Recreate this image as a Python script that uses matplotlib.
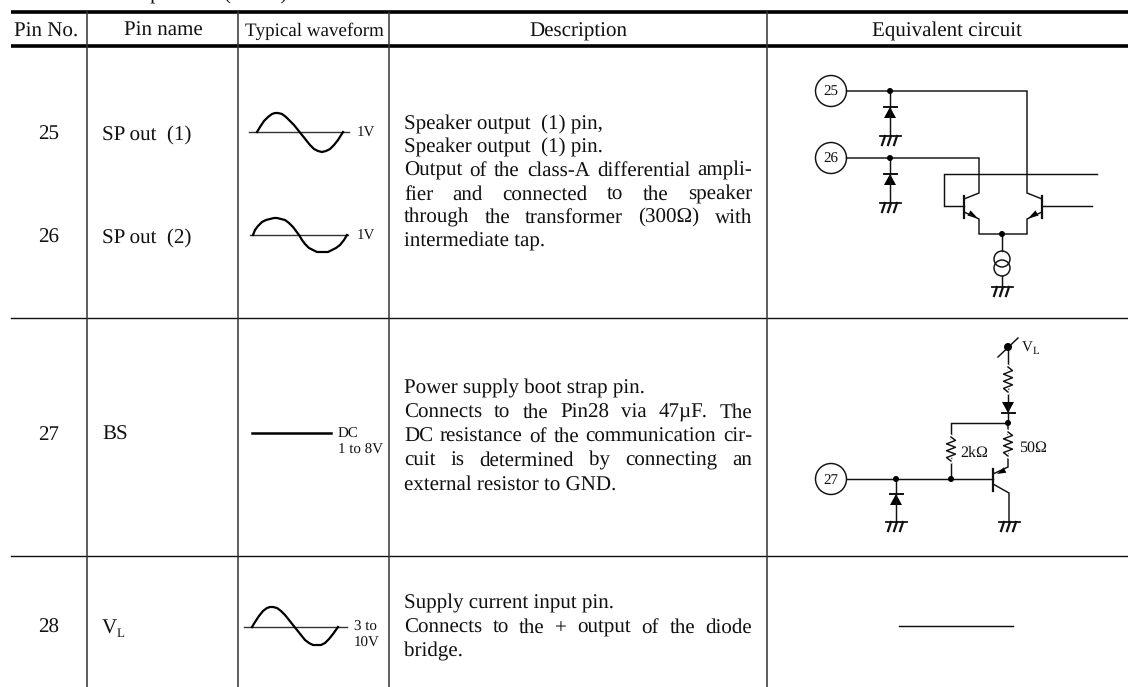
import numpy as np
import matplotlib
matplotlib.use('Agg')
import matplotlib.pyplot as plt
from matplotlib.patches import Circle, Polygon

plt.rcParams['font.family'] = ['Liberation Serif', 'DejaVu Serif']
plt.rcParams['text.hinting'] = 'no_hinting'
plt.rcParams['text.hinting_factor'] = 1

# Tabela
headers = ['Pin No.', 'Pin name', 'Typical waveform', 'Description', 'Equivalent circuit']
header_x = [46, 163, 314, 578, 947]
header_size = [15, 15, 14, 15, 15]
col_lines = [87, 238, 389, 767]
pin_no = ['25', '26', '27', '28']
pin_y = [133, 236, 433, 626]
pin_names = ['SP out  (1)', 'SP out  (2)', 'BS', 'V']

# (tekst, y, czy justowany)
desc_lines = [
    ('Speaker output  (1) pin,', 122.5, False),
    ('Speaker output  (1) pin.', 145.5, False),
    ('Output of the class-A differential ampli-', 168.5, True),
    ('fier and connected to the speaker', 192.5, True),
    ('through the transformer (300Ω) with', 215.5, True),
    ('intermediate tap.', 239.5, False),
    ('Power supply boot strap pin.', 386.5, False),
    ('Connects to the Pin28 via 47µF. The', 410.5, True),
    ('DC resistance of the communication cir-', 434.5, True),
    ('cuit is determined by connecting an', 458.5, True),
    ('external resistor to GND.', 482.5, False),
    ('Supply current input pin.', 601.5, False),
    ('Connects to the + output of the diode', 625.5, True),
    ('bridge.', 649.5, False),
]

# Przebiegi
wave1_x = [257, 260, 264, 268, 272, 275, 278, 282, 286, 290, 294, 298, 302, 306, 310, 314, 318, 322, 326, 330, 334, 338, 343]
wave1_y = [132, 127, 121, 117, 114, 113, 113, 114, 117, 121, 125, 130, 135, 140, 145, 149, 151, 152, 151, 149, 145, 140, 132]
wave2_x = [253, 255, 258, 262, 266, 270, 274, 277, 281, 285, 289, 293, 296, 299, 302, 305, 309, 313, 317, 321, 324, 328, 332, 336, 340, 344, 347]
wave2_y = [235, 230, 226, 222, 220, 219, 218, 218, 219, 220, 223, 227, 231, 235, 240, 244, 248, 250, 252, 252, 252, 252, 250, 248, 245, 240, 235]
wave3_x = [252, 255, 259, 263, 267, 270, 273, 277, 281, 285, 289, 293, 297, 301, 305, 309, 313, 317, 321, 325, 329, 333, 338]
wave3_y = [627, 622, 616, 611, 608, 607, 607, 608, 611, 615, 620, 625, 630, 635, 640, 643, 645, 645, 645, 643, 639, 634, 627]
wave_axes = [(249, 349, 132), (250, 348, 235), (244, 347, 627)]
wave_labels = [(357, 132, '1V'), (357, 235, '1V'), (338, 433, 'DC'), (338, 449, '1 to 8V'),
               (354, 626, '3 to'), (354, 642, '10V')]

# Schematy: przewody jako lamane (x, y)
wires = [
    [(846.5, 91), (1027, 91), (1027, 193), (1042, 199)],
    [(846.5, 158), (979, 158), (979, 193), (964, 199)],
    [(964, 206), (944, 206), (944, 174), (1097, 174)],
    [(1042, 206), (1092, 206)],
    [(964, 212), (979, 219), (979, 234), (1027, 234), (1027, 219), (1042, 212)],
    [(890, 91), (890, 136)],
    [(890, 158), (890, 203)],
    [(1002, 234), (1002, 251)],
    [(1002, 276), (1002, 287)],
    [(846.5, 479), (993, 479)],
    [(896, 479), (896, 522)],
    [(1008, 347), (1008, 423)],
    [(1008, 423), (951, 423), (951, 479)],
    [(1008, 423), (1008, 467), (993, 474)],
    [(993, 484), (1009, 493), (1009, 522)],
    [(998, 357), (1018, 338)],
    [(899, 626), (1013, 626)],
]
dots = [(890, 91), (890, 158), (1002, 234), (896, 479), (951, 479), (1008, 423)]
pin_circles = [(831, 91, '25'), (831, 158, '26'), (831, 479, '27')]
grounds = [(890, 136), (890, 203), (1002, 287), (896, 522), (1009, 522)]
diodes_up = [(890, 107), (890, 174), (896, 494)]
base_bars = [(964, 196, 218), (1042, 196, 218), (993, 469, 491)]
arrows = [((978, 218.5), (969, 213)), ((1028, 218.5), (1037, 213)), ((997, 474), (1005, 470))]
resistors = [(1008, 367, 392), (1008, 432, 456), (951, 437, 461)]
small_labels = [(960, 451, '2kΩ'), (1019, 446, '50Ω')]

LW = 1.05
BLACK = '#111111'
BODY = 15.2

fig = plt.figure(figsize=(11.28, 6.87), dpi=100)
ax = fig.add_axes([0, 0, 1, 1])
ax.set_xlim(0, 1128)
ax.set_ylim(687, 0)
ax.axis('off')
renderer = fig.canvas.get_renderer()


def put(x, y, s, size=15, ha='left', va='center_baseline', **kw):
    return ax.text(x, y, s, fontsize=size, ha=ha, va=va, color=BLACK, **kw)


def justified(s, x0, x1, y, size=15):
    # rozciaga odstepy miedzy slowami do pelnej szerokosci kolumny
    words = s.split()
    widths = []
    for w in words:
        t = put(0, y, w, size=size)
        widths.append(t.get_window_extent(renderer).width)
        t.remove()
    gap = (x1 - x0 - sum(widths)) / (len(words) - 1)
    x = x0
    for w, wd in zip(words, widths):
        put(x, y, w, size=size)
        x += wd + gap


def ground(x, y):
    ax.plot([x - 10.5, x + 10.5], [y, y], color=BLACK, lw=1.3)
    for dx in [-5, 1, 7]:
        ax.plot([x + dx, x + dx - 3], [y, y + 9], color=BLACK, lw=1.6)


def diode(x, y_bar, up=True):
    # up: kreska na gorze, trojkat ponizej
    d = 11 if up else -11
    ax.plot([x - 6.5, x + 6.5], [y_bar, y_bar], color=BLACK, lw=1.4)
    ax.add_patch(Polygon([(x, y_bar), (x - 6, y_bar + d), (x + 6, y_bar + d)], color='black', lw=0))


def resistor(x, y0, y1, teeth=6, w=4.5):
    ys = np.linspace(y0, y1, teeth + 2)
    xs = [x] + [x + (w if i % 2 == 0 else -w) for i in range(teeth)] + [x]
    ax.plot(xs, ys, color='white', lw=3, zorder=3)
    ax.plot(xs, ys, color=BLACK, lw=LW, zorder=4)


def arrow_head(tip, tail):
    tip, tail = np.array(tip, float), np.array(tail, float)
    n = np.array([-(tip - tail)[1], (tip - tail)[0]])
    n = n / np.linalg.norm(n) * 3
    ax.add_patch(Polygon([tip, tail + n, tail - n], color='black', lw=0))


# Linie tabeli
for y, lw in [(12, 2.6), (46, 2.6)]:
    ax.plot([11, 1128], [y, y], color='black', lw=lw, solid_capstyle='butt')
for y in [318, 556]:
    ax.plot([11, 1128], [y, y], color=BLACK, lw=1.0)
for x in col_lines:
    ax.plot([x, x], [12, 687], color='#333333', lw=1.1)

# tytul uciety gora strony
put(100, 0, 'description', va='baseline')
put(223, 0, "(cont'd)", va='baseline')

for x, s, sz in zip(header_x, headers, header_size):
    put(x, 29, s, size=sz, ha='center')
for y, s, nm in zip(pin_y, pin_no, pin_names):
    put(49, y, s, ha='center')
    put(102, y, nm)
put(117, 632, 'L', size=9.5)

for s, y, just in desc_lines:
    if just:
        justified(s, 404, 752, y, size=BODY)
    else:
        put(404, y, s, size=BODY)

# Przebiegi
for x0, x1, y in wave_axes:
    ax.plot([x0, x1], [y, y], color='#333333', lw=1.0)
for xs, ys in [(wave1_x, wave1_y), (wave2_x, wave2_y), (wave3_x, wave3_y)]:
    ax.plot(xs, ys, color='black', lw=1.6, solid_joinstyle='round')
ax.plot([252, 331], [433, 433], color='black', lw=1.8)
for x, y, s in wave_labels:
    put(x, y, s, size=11)

# Schematy
for w in wires:
    xs, ys = zip(*w)
    ax.plot(xs, ys, color=BLACK, lw=LW, solid_joinstyle='miter')
for x, y in dots:
    ax.add_patch(Circle((x, y), 3, color='black', lw=0, zorder=5))
ax.add_patch(Circle((1008, 347), 4, color='black', lw=0, zorder=5))
for x, y, s in pin_circles:
    ax.add_patch(Circle((x, y), 15.5, fill=False, ec=BLACK, lw=LW))
    put(x, y, s, size=11, ha='center')
for x, y in grounds:
    ground(x, y)
for x, y in diodes_up:
    diode(x, y)
diode(1008, 413, up=False)
for x, y0, y1 in base_bars:
    ax.plot([x, x], [y0, y1], color=BLACK, lw=1.6)
for tip, tail in arrows:
    arrow_head(tip, tail)
for x, y0, y1 in resistors:
    resistor(x, y0, y1)
for y in [259, 268]:
    ax.add_patch(Circle((1002, y), 8, fill=False, ec=BLACK, lw=LW))
put(1022, 347, 'V', size=11)
put(1033, 350, 'L', size=8)
for x, y, s in small_labels:
    put(x, y, s, size=11.5)

fig.savefig('out.png', dpi=100)
